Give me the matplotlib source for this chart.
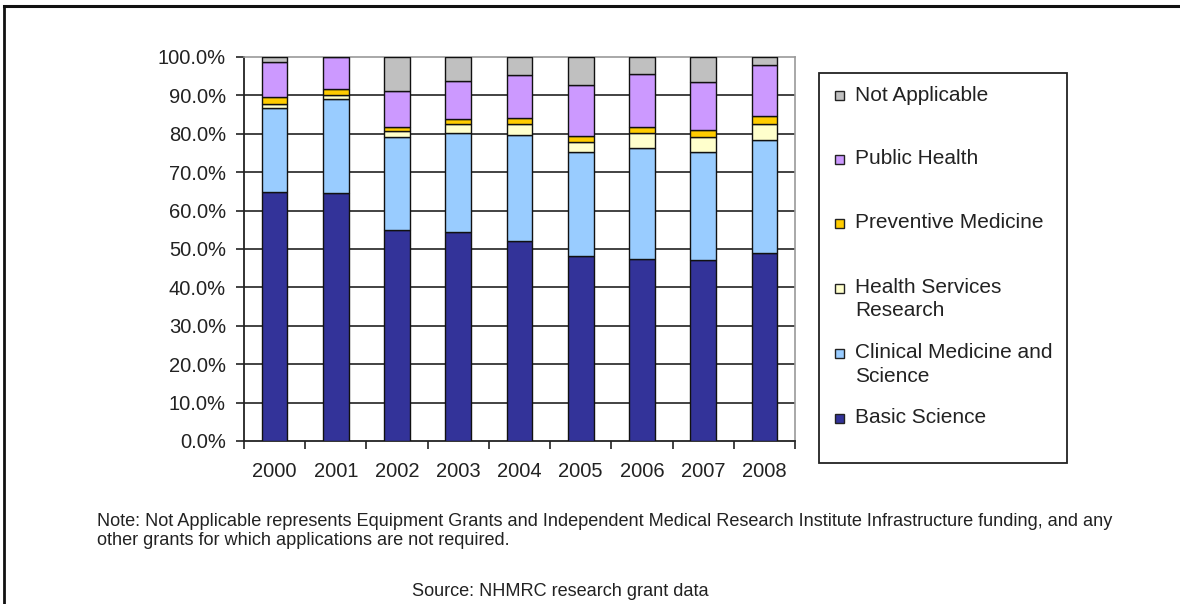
import matplotlib
matplotlib.use("Agg")
import matplotlib.pyplot as plt
from matplotlib.patches import Rectangle
from matplotlib.lines import Line2D
from matplotlib.ticker import PercentFormatter
import numpy as np

plt.rcParams['font.family'] = ['Liberation Sans', 'DejaVu Sans']

# Share of NHMRC research grant funding by broad research area (%)
years = ['2000', '2001', '2002', '2003', '2004', '2005', '2006', '2007', '2008']
basic_science = [64.8, 64.5, 54.9, 54.4, 52.2, 48.2, 47.5, 47.1, 49.0]
clinical_medicine = [21.8, 24.6, 24.2, 25.7, 27.5, 27.0, 28.8, 28.1, 29.3]
health_services = [1.2, 1.0, 1.7, 2.4, 2.8, 2.7, 3.8, 4.0, 4.2]
preventive_medicine = [1.7, 1.5, 0.9, 1.4, 1.6, 1.4, 1.6, 1.9, 2.1]
public_health = [9.3, 8.4, 9.4, 9.9, 11.1, 13.3, 14.0, 12.4, 13.4]
not_applicable = [1.2, 0.0, 8.9, 6.2, 4.8, 7.4, 4.3, 6.5, 2.0]

series_labels = ['Basic Science', 'Clinical Medicine and\nScience',
                 'Health Services\nResearch', 'Preventive Medicine',
                 'Public Health', 'Not Applicable']
series_values = [basic_science, clinical_medicine, health_services,
                 preventive_medicine, public_health, not_applicable]
series_colors = ['#333399', '#99CCFF', '#FFFFCC', '#FFCC00', '#CC99FF', '#C0C0C0']

W, H = 1180, 604
fig = plt.figure(figsize=(W / 100, H / 100), dpi=100)
fig.patch.set_facecolor('white')


def fx(px):
    return px / W


def fy(py):
    return 1 - py / H


ax = fig.add_axes([fx(244), fy(441), fx(795) - fx(244), fy(57) - fy(441)])

x = np.arange(len(years))
bottom = np.zeros(len(years))
for vals, col in zip(series_values, series_colors):
    vals = np.array(vals)
    ax.bar(x, vals, width=0.42, bottom=bottom, color=col,
           edgecolor='#111111', linewidth=1.0, zorder=3)
    bottom += vals

ax.set_xlim(-0.5, len(years) - 0.5)
ax.set_ylim(0, 100)
ax.set_yticks(np.arange(0, 101, 10))
ax.yaxis.set_major_formatter(PercentFormatter(decimals=1))
for yv in range(10, 100, 10):
    ax.axhline(yv, color='#222222', linewidth=1.2, zorder=1)

ax.set_xticks(x)
ax.set_xticklabels(years)
ax.set_xticks(np.arange(-0.5, len(years)), minor=True)
ax.tick_params(axis='x', which='major', length=0, pad=15, labelsize=14.5,
               labelcolor='#222222')
ax.tick_params(axis='x', which='minor', length=6, width=1.2, color='#222222')
ax.tick_params(axis='y', length=6, width=1.2, color='#222222', pad=7,
               labelsize=14.5, labelcolor='#222222')

for side in ['left', 'bottom']:
    ax.spines[side].set_color('#222222')
    ax.spines[side].set_linewidth(1.3)
for side in ['top', 'right']:
    ax.spines[side].set_color('#9a9a9a')
    ax.spines[side].set_linewidth(1.2)

# Legend box, entries listed top to bottom in reverse stack order
fig.patches.append(Rectangle((fx(819), fy(463)), fx(1067) - fx(819), fy(73) - fy(463),
                             transform=fig.transFigure, facecolor='white',
                             edgecolor='#222222', linewidth=1.3))
entry_y = [418, 353, 288, 223, 159, 96]
for label, col, ey in zip(series_labels, series_colors, entry_y):
    fig.patches.append(Rectangle((fx(835), fy(ey + 4.5)), fx(9), 9 / H,
                                 transform=fig.transFigure, facecolor=col,
                                 edgecolor='#222222', linewidth=1.0))
    fig.text(fx(855), fy(ey - 10), label, fontsize=15, color='#222222',
             va='top', ha='left', linespacing=1.3)

# Page frame
fig.add_artist(Line2D([fx(4), 1], [fy(6), fy(6)], color='#111111', linewidth=2.2,
                      transform=fig.transFigure))
fig.add_artist(Line2D([fx(4), fx(4)], [fy(6), 0], color='#111111', linewidth=2.0,
                      transform=fig.transFigure))

fig.text(fx(97), fy(531),
         'Note: Not Applicable represents Equipment Grants and Independent Medical '
         'Research Institute Infrastructure funding, and any\n'
         'other grants for which applications are not required.',
         fontsize=13.1, color='#222222', ha='left', va='center', linespacing=1.22)
fig.text(fx(560), fy(592), 'Source: NHMRC research grant data',
         fontsize=13.1, color='#222222', ha='center', va='center')

fig.savefig('out.png', dpi=100, facecolor='white')
